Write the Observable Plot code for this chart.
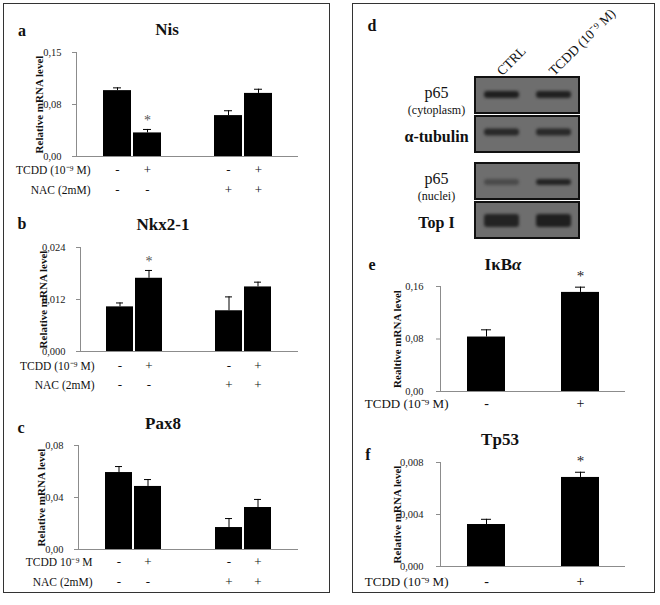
<!DOCTYPE html>
<html><head><meta charset="utf-8">
<script src="https://cdn.jsdelivr.net/npm/d3@7"></script>
<script src="https://cdn.jsdelivr.net/npm/@observablehq/plot@0.6"></script>
<style>
body{margin:0;background:#fff;}
#fig{position:relative;width:660px;height:605px;background:#fff;font-family:"Liberation Serif","Times New Roman",serif;color:#111;overflow:hidden}
.box{position:absolute;border:1.2px solid #333;box-sizing:border-box}
.lbl{position:absolute;font-weight:bold;transform:translate(-50%,-50%);white-space:nowrap;line-height:1}
.let{font-size:16px}
.ttl{font-size:17px}
.panel{position:absolute}
.panel svg{overflow:visible}
.panel svg, .panel svg text, .panel svg g{font-family:"Liberation Serif","Times New Roman",serif !important}
</style></head><body>
<div id="fig">
  <div class="box" style="left:3px;top:3px;width:327px;height:590px"></div>
  <div class="box" style="left:352px;top:3px;width:303px;height:590px"></div>
  <div class="lbl let" style="left:22px;top:31px">a</div>
  <div class="lbl ttl" style="left:167px;top:29px">Nis</div>
  <div class="lbl let" style="left:22px;top:224px">b</div>
  <div class="lbl ttl" style="left:163px;top:224px">Nkx2-1</div>
  <div class="lbl let" style="left:21px;top:428px">c</div>
  <div class="lbl ttl" style="left:163px;top:423px">Pax8</div>
  <div class="lbl let" style="left:372px;top:26px">d</div>
  <div class="lbl let" style="left:372px;top:265px">e</div>
  <div class="lbl ttl" style="left:503px;top:264px">IκB<i>α</i></div>
  <div class="lbl ttl" style="left:500px;top:439px">Tp53</div>
  <div class="lbl let" style="left:368px;top:455px">f</div>
  <div class="panel" id="pa" style="left:0px;top:42px"></div>
  <div class="panel" id="pb" style="left:0px;top:237px"></div>
  <div class="panel" id="pc" style="left:0px;top:435px"></div>
  <div class="panel" id="pd" style="left:360px;top:0px"></div>
  <div class="panel" id="pe" style="left:352px;top:276px"></div>
  <div class="panel" id="pf" style="left:352px;top:452px"></div>
</div>
<script>
// ---------- data ----------
const tcddSigns = ["-", "+", "-", "+"];
const nacSigns  = ["-", "-", "+", "+"];

const nisValues = [0.095, 0.034, 0.059, 0.091];
const nisErrors = [0.004, 0.005, 0.007, 0.006];
const nisSignificant = [false, true, false, false];
const nisTicks = [0, 0.075, 0.15];
const nisTickLabels = ["0,00", "0,08", "0,15"];

const nkxValues = [0.0103, 0.0169, 0.0094, 0.0149];
const nkxErrors = [0.0009, 0.0018, 0.0032, 0.0011];
const nkxSignificant = [false, true, false, false];
const nkxTicks = [0, 0.012, 0.024];
const nkxTickLabels = ["0,000", "0,012", "0,024"];

const pax8Values = [0.0592, 0.0485, 0.0169, 0.0323];
const pax8Errors = [0.0046, 0.0053, 0.0069, 0.0062];
const pax8Significant = [false, false, false, false];
const pax8Ticks = [0, 0.04, 0.08];
const pax8TickLabels = ["0,00", "0,04", "0,08"];

const tcddOnly = ["-", "+"];
const ikbaValues = [0.083, 0.151];
const ikbaErrors = [0.011, 0.008];
const ikbaSignificant = [false, true];
const ikbaTicks = [0, 0.08, 0.16];
const ikbaTickLabels = ["0,00", "0,08", "0,16"];

const tp53Values = [0.00323, 0.00685];
const tp53Errors = [0.0004, 0.0004];
const tp53Significant = [false, true];
const tp53Ticks = [0, 0.004, 0.008];
const tp53TickLabels = ["0,000", "0,004", "0,008"];

const blotLanes = ["CTRL", "TCDD (10⁻⁹ M)"];
const blotFractions = ["cytoplasm", "nuclei"];
const blotRows = ["protein", "loading"];
const blotNames = ["p65", "α-tubulin", "p65", "Top I"];
const blotSubNames = ["(cytoplasm)", "", "(nuclei)", ""];
const bandIntensity = [[0.9, 0.88], [0.8, 0.78], [0.4, 0.85], [0.85, 0.9]];

// ---------- styles ----------
const AX = "#8c8c8c";
const INK = "#111";
const SERIF = '"Liberation Serif", "Times New Roman", serif';
const baseStyle = {background: "transparent", color: INK, fontFamily: SERIF};

function groupedBars({values, errors, significant, ticks, tickLabels, label, marginLeft, tcddLabel, rowDy}) {
  const data = values.map((v, i) => ({tcdd: tcddSigns[i], nac: nacSigns[i], value: v, err: errors[i], sig: significant[i]}));
  const first = [{nac: "-"}];
  return Plot.plot({
    width: 320, height: 164,
    marginLeft, marginRight: 22, marginTop: 10, marginBottom: 50,
    style: baseStyle,
    fx: {domain: ["-", "+"], padding: 0, axis: null},
    x: {domain: ["-", "+"], paddingInner: 0.067, paddingOuter: 0.883, axis: null},
    y: {domain: [0, ticks[ticks.length - 1]]},
    marks: [
      Plot.ruleY([0], {stroke: AX}),
      Plot.frame({anchor: "left", facetAnchor: "left", stroke: AX}),
      Plot.axisY({ticks, tickFormat: d => tickLabels[ticks.indexOf(d)], tickSize: 4, tickPadding: 11,
                  stroke: AX, fill: "#222", fontSize: 10.5, fontFamily: SERIF, label: null}),
      Plot.barY(data, {fx: "nac", x: "tcdd", y: "value", fill: "#000"}),
      Plot.ruleX(data, {fx: "nac", x: "tcdd", y1: "value", y2: d => d.value + d.err, stroke: "#000"}),
      Plot.tickY(data, {fx: "nac", x: "tcdd", y: d => d.value + d.err, stroke: "#000", insetLeft: 10, insetRight: 10}),
      Plot.text(data.filter(d => d.sig), {fx: "nac", x: "tcdd", y: d => d.value + d.err, text: () => "*", dy: -9, fontSize: 14, fill: "#555", fontFamily: SERIF}),
      Plot.text(first, {fx: "nac", frameAnchor: "left", textAnchor: "middle", text: () => label, rotate: -90, dx: -37, fontWeight: "bold", fontSize: 11, fill: INK, fontFamily: SERIF}),
      Plot.text(data, {fx: "nac", x: "tcdd", text: d => d.tcdd, frameAnchor: "bottom", dy: rowDy[0], fontSize: 13, fill: INK, fontFamily: SERIF}),
      Plot.text(data, {fx: "nac", x: "tcdd", text: d => d.nac, frameAnchor: "bottom", dy: rowDy[1], fontSize: 13, fill: INK, fontFamily: SERIF}),
      Plot.text(first, {fx: "nac", frameAnchor: "bottom-left", text: () => tcddLabel, textAnchor: "end", dx: 14, dy: rowDy[0], fontSize: 11.5, fill: INK, fontFamily: SERIF}),
      Plot.text(first, {fx: "nac", frameAnchor: "bottom-left", text: () => "NAC (2mM)", textAnchor: "end", dx: 14, dy: rowDy[1], fontSize: 11.5, fill: INK, fontFamily: SERIF})
    ]
  });
}

function simpleBars({values, errors, significant, ticks, tickLabels, label, height, rowDy}) {
  const data = values.map((v, i) => ({tcdd: tcddOnly[i], value: v, err: errors[i], sig: significant[i]}));
  return Plot.plot({
    width: 300, height,
    marginLeft: 88, marginRight: 27, marginTop: 10, marginBottom: 30,
    style: baseStyle,
    x: {domain: tcddOnly, paddingInner: 0.6, paddingOuter: 0.28, axis: null},
    y: {domain: [0, ticks[ticks.length - 1]]},
    marks: [
      Plot.ruleY([0], {stroke: AX}),
      Plot.frame({anchor: "left", stroke: AX}),
      Plot.axisY({ticks, tickFormat: d => tickLabels[ticks.indexOf(d)], tickSize: 4, tickPadding: 13,
                  stroke: AX, fill: "#222", fontSize: 10.5, fontFamily: SERIF, label: null}),
      Plot.barY(data, {x: "tcdd", y: "value", fill: "#000"}),
      Plot.ruleX(data, {x: "tcdd", y1: "value", y2: d => d.value + d.err, stroke: "#000"}),
      Plot.tickY(data, {x: "tcdd", y: d => d.value + d.err, stroke: "#000", insetLeft: 14, insetRight: 14}),
      Plot.text(data.filter(d => d.sig), {x: "tcdd", y: d => d.value + d.err, text: () => "*", dy: -11, fontSize: 15, fill: "#222", fontFamily: SERIF}),
      Plot.text([label], {frameAnchor: "left", textAnchor: "middle", text: d => d, rotate: -90, dx: -43, fontWeight: "bold", fontSize: 11, fill: INK, fontFamily: SERIF}),
      Plot.text(data, {x: "tcdd", text: d => d.tcdd, frameAnchor: "bottom", dy: rowDy, fontSize: 14, fill: INK, fontFamily: SERIF}),
      Plot.text(["TCDD (10⁻⁹ M)"], {frameAnchor: "bottom-left", text: d => d, textAnchor: "end", dx: 8, dy: rowDy, fontSize: 13, fill: INK, fontFamily: SERIF})
    ]
  });
}

document.getElementById("pa").append(groupedBars({values: nisValues, errors: nisErrors, significant: nisSignificant,
  ticks: nisTicks, tickLabels: nisTickLabels, label: "Relative mRNA level", marginLeft: 76, tcddLabel: "TCDD (10⁻⁹ M)", rowDy: [17, 37]}));
document.getElementById("pb").append(groupedBars({values: nkxValues, errors: nkxErrors, significant: nkxSignificant,
  ticks: nkxTicks, tickLabels: nkxTickLabels, label: "Relative mRNA level", marginLeft: 79, tcddLabel: "TCDD (10⁻⁹ M)", rowDy: [18, 37]}));
document.getElementById("pc").append(groupedBars({values: pax8Values, errors: pax8Errors, significant: pax8Significant,
  ticks: pax8Ticks, tickLabels: pax8TickLabels, label: "Relative mRNA level", marginLeft: 77, tcddLabel: "TCDD 10⁻⁹ M", rowDy: [16, 36]}));
document.getElementById("pe").append(simpleBars({values: ikbaValues, errors: ikbaErrors, significant: ikbaSignificant,
  ticks: ikbaTicks, tickLabels: ikbaTickLabels, label: "Realtive mRNA level", height: 145, rowDy: 16}));
document.getElementById("pf").append(simpleBars({values: tp53Values, errors: tp53Errors, significant: tp53Significant,
  ticks: tp53Ticks, tickLabels: tp53TickLabels, label: "Relative mRNA level", height: 144, rowDy: 19}));

// ---------- western blot ----------
const boxData = [];
const bandData = [];
blotFractions.forEach((f, fi) => blotRows.forEach((r, ri) => {
  const k = fi * 2 + ri;
  boxData.push({fraction: f, row: r, name: blotNames[k], sub: blotSubNames[k], k});
  blotLanes.forEach((lane, li) => bandData.push({fraction: f, row: r, lane, intensity: bandIntensity[k][li], k}));
}));
const laneLabels = blotLanes.map(lane => ({lane, fraction: blotFractions[0]}));
const bandStyle = [
  {insetTop: 14, insetBottom: 15},
  {insetTop: 12.5, insetBottom: 16.5},
  {insetTop: 16, insetBottom: 14},
  {insetTop: 12, insetBottom: 11}
];
const blot = Plot.plot({
  width: 260, height: 250,
  marginLeft: 115, marginRight: 41, marginTop: 77, marginBottom: 11,
  style: baseStyle,
  fy: {domain: blotFractions, paddingInner: 0.127, paddingOuter: 0, axis: null},
  y: {domain: blotRows, paddingInner: 0.08, paddingOuter: 0, axis: null},
  x: {domain: blotLanes, padding: 0, axis: null},
  opacity: {domain: [0, 1], range: [0, 1]},
  marks: [
    Plot.cell(boxData, {fy: "fraction", y: "row", fill: "#6e6e6e", stroke: "#111", strokeWidth: 2}),
    ...bandStyle.map((s, k) => Plot.cell(bandData.filter(d => d.k === k), {
      fy: "fraction", y: "row", x: "lane", fill: "#161616", fillOpacity: "intensity",
      insetLeft: 9, insetRight: 8, ...s, rx: 3, imageFilter: "blur(1.4px)"})),
    Plot.text(boxData.filter(d => d.sub), {fy: "fraction", y: "row", text: "name", frameAnchor: "left", textAnchor: "middle", dx: -39, dy: -3, fontSize: 16, fill: INK, fontFamily: SERIF}),
    Plot.text(boxData.filter(d => d.sub), {fy: "fraction", y: "row", text: "sub", frameAnchor: "left", textAnchor: "middle", dx: -39, dy: 15, fontSize: 12, fill: INK, fontFamily: SERIF}),
    Plot.text(boxData.filter(d => !d.sub), {fy: "fraction", y: "row", text: "name", frameAnchor: "left", textAnchor: "middle", dx: -39, dy: 2, fontSize: 16, fontWeight: "bold", fill: INK, fontFamily: SERIF}),
    Plot.text(laneLabels, {fy: "fraction", x: "lane", text: "lane", frameAnchor: "top", rotate: -45, textAnchor: "start", dx: -6, dy: -8, fontSize: 13.5, fill: INK, fontFamily: SERIF})
  ]
});
document.getElementById("pd").append(blot);
</script>
</body></html>
